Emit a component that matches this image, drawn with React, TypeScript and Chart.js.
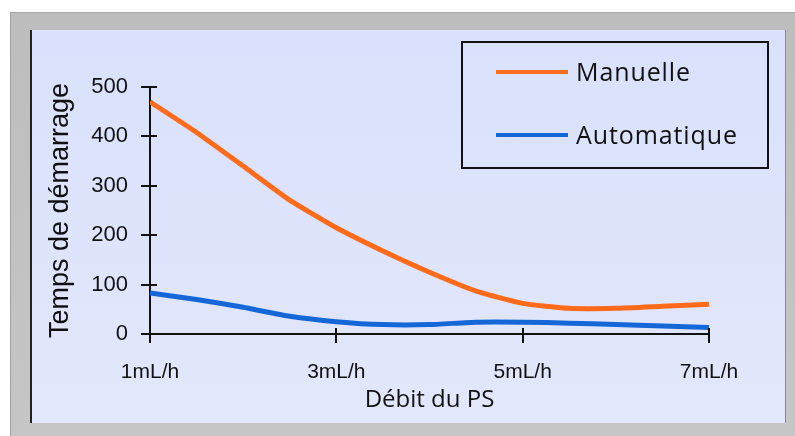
import React, { useEffect, useRef } from "react";
import { Chart, registerables } from "chart.js";

Chart.register(...registerables);

const flowRates = [1, 1.5, 2, 2.5, 3, 3.5, 4, 4.5, 5, 5.5, 6, 6.5, 7];
const manuelle = [470, 408, 340, 271, 215, 168, 125, 87, 62, 52, 52, 56, 60];
const automatique = [83, 70, 54, 36, 25, 19, 19, 24, 24, 22, 19, 16, 13];
const xTickValues = [1, 3, 5, 7];
const xTickLabels = ["1mL/h", "3mL/h", "5mL/h", "7mL/h"];
const yTickValues = [0, 100, 200, 300, 400, 500];
const seriesNames = ["Manuelle", "Automatique"];
const seriesColors = ["#FF6B1A", "#1566D6"];

const innerTicks = {
  id: "innerTicks",
  afterDatasetsDraw(chart: any) {
    const { ctx, chartArea, scales } = chart;
    ctx.save();
    ctx.strokeStyle = "#111";
    ctx.lineWidth = 2;
    scales.y.ticks.forEach((t: any) => {
      const py = Math.round(scales.y.getPixelForValue(t.value));
      ctx.beginPath();
      ctx.moveTo(chartArea.left, py);
      ctx.lineTo(chartArea.left + 7, py);
      ctx.stroke();
    });
    scales.x.ticks.forEach((t: any) => {
      const px = Math.round(scales.x.getPixelForValue(t.value));
      ctx.beginPath();
      ctx.moveTo(px, chartArea.bottom);
      ctx.lineTo(px, chartArea.bottom - 6);
      ctx.stroke();
    });
    ctx.restore();
  },
};

const boxLegend = {
  id: "boxLegend",
  afterDraw(chart: any) {
    const { ctx, width } = chart;
    const bx = width - 323;
    const by = 12;
    const bw = 306;
    const bh = 126;
    ctx.save();
    ctx.strokeStyle = "#111";
    ctx.lineWidth = 2;
    ctx.strokeRect(bx, by, bw, bh);
    ctx.font = "25px 'Open Sans'";
    ctx.textBaseline = "middle";
    ctx.fillStyle = "#111";
    (ctx as any).letterSpacing = "0.9px";
    chart.data.datasets.forEach((ds: any, i: number) => {
      const ly = by + 30 + i * 63;
      ctx.strokeStyle = ds.borderColor;
      ctx.lineWidth = 4;
      ctx.beginPath();
      ctx.moveTo(bx + 34, ly);
      ctx.lineTo(bx + 106, ly);
      ctx.stroke();
      ctx.fillText(ds.label, bx + 114, ly + 2);
    });
    ctx.restore();
  },
};

export default function App() {
  const ref = useRef<HTMLCanvasElement | null>(null);
  useEffect(() => {
    if (!ref.current) return;
    const chart = new Chart(ref.current, {
      type: "line",
      data: {
        datasets: [manuelle, automatique].map((vals, i) => ({
          label: seriesNames[i],
          data: flowRates.map((x, j) => ({ x, y: vals[j] })),
          borderColor: seriesColors[i],
          backgroundColor: seriesColors[i],
          borderWidth: 5,
          pointRadius: 0,
          tension: 0.15,
          fill: false,
        })),
      },
      options: {
        animation: false,
        responsive: false,
        devicePixelRatio: 1,
        layout: { padding: { top: 57, right: 76, left: 0, bottom: 0 } },
        plugins: { legend: { display: false }, tooltip: { enabled: false } },
        scales: {
          x: {
            type: "linear",
            min: 1,
            max: 7,
            afterFit: (s: any) => {
              s.height = 89;
            },
            afterBuildTicks: (s: any) => {
              s.ticks = xTickValues.map((v) => ({ value: v }));
            },
            ticks: {
              callback: (v: any) => xTickLabels[xTickValues.indexOf(v)] ?? "",
              font: { family: "'Liberation Sans', Arial", size: 21 },
              color: "#111",
              padding: 17,
              maxRotation: 0,
            },
            grid: { drawOnChartArea: false, drawTicks: true, tickLength: 9, color: "#111", lineWidth: 2 },
            border: { color: "#111", width: 2 },
            title: {
              display: true,
              text: "Débit du PS",
              font: { family: "'Open Sans'", size: 24 },
              color: "#111",
              padding: { top: 0, bottom: 8 },
            },
          },
          y: {
            min: 0,
            max: 500,
            afterFit: (s: any) => {
              s.width = 118;
            },
            afterBuildTicks: (s: any) => {
              s.ticks = yTickValues.map((v) => ({ value: v }));
            },
            ticks: {
              font: { family: "'Liberation Sans', Arial", size: 22 },
              color: "#111",
              padding: 13,
            },
            grid: { drawOnChartArea: false, drawTicks: true, tickLength: 9, color: "#111", lineWidth: 2 },
            border: { color: "#111", width: 2 },
            title: {
              display: true,
              text: "Temps de démarrage",
              font: { family: "'Liberation Sans', Arial", size: 27 },
              color: "#111",
              padding: { top: 12, bottom: 0 },
            },
          },
        },
      },
      plugins: [innerTicks, boxLegend],
    });
    return () => chart.destroy();
  }, []);

  return (
    <div
      style={{
        position: "fixed",
        left: 10,
        top: 12,
        width: 785,
        height: 424,
        background: "linear-gradient(#bdbdbd, #c6c6c6)",
        borderLeft: "1px solid #a0a0a0",
        borderTop: "1px solid #a8a8a8",
        boxSizing: "border-box",
      }}
    >
      <div
        style={{
          position: "absolute",
          left: 19,
          top: 17,
          width: 756,
          height: 393,
          boxSizing: "border-box",
          borderLeft: "2px solid #222",
          borderRight: "1px solid #8a8a8a",
          background: "linear-gradient(#d9e1fc, #e3e7fb)",
        }}
      >
        <canvas ref={ref} width={753} height={393} style={{ display: "block", width: 753, height: 393 }} />
      </div>
    </div>
  );
}
